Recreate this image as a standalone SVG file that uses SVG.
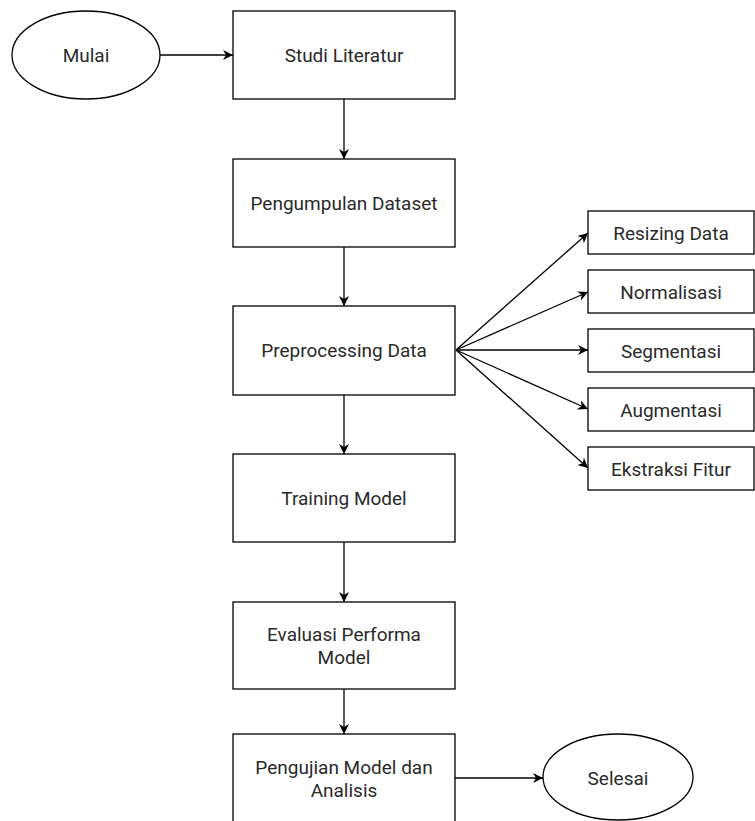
<svg xmlns="http://www.w3.org/2000/svg" width="755" height="821" viewBox="0 0 755 821">
<style>
.n{fill:#fff;stroke:#000;stroke-width:1.3}
.t{font-family:Roboto,"Liberation Sans",sans-serif;font-size:19px;fill:#2a2a2a;text-anchor:middle;dominant-baseline:central}
.c{fill:none;stroke:#000;stroke-width:1.3}
</style>
<defs>
<marker id="a" viewBox="0 0 10 10" refX="10" refY="5" markerWidth="10" markerHeight="10" markerUnits="userSpaceOnUse" orient="auto">
<path d="M0,0 L10,5 L0,10 L3,5 z" fill="#000"/>
</marker>
</defs>
<rect width="755" height="821" fill="#fff"/>
<g id="connectors">
<path class="c" d="M160,55 H233" marker-end="url(#a)"/>
<path class="c" d="M344,99 V159" marker-end="url(#a)"/>
<path class="c" d="M344,247 V306" marker-end="url(#a)"/>
<path class="c" d="M344,395 V454" marker-end="url(#a)"/>
<path class="c" d="M344,542 V602" marker-end="url(#a)"/>
<path class="c" d="M344,689 V734" marker-end="url(#a)"/>
<path class="c" d="M455,778 H543" marker-end="url(#a)"/>
<path class="c" d="M456,350 L588,233" marker-end="url(#a)"/>
<path class="c" d="M456,350 L588,292" marker-end="url(#a)"/>
<path class="c" d="M456,350 L588,350" marker-end="url(#a)"/>
<path class="c" d="M456,350 L588,409" marker-end="url(#a)"/>
<path class="c" d="M456,350 L588,468" marker-end="url(#a)"/>
</g>
<g id="mulai"><ellipse class="n" cx="86" cy="55" rx="74" ry="44"/><text class="t" x="86" y="55">Mulai</text></g>
<g id="studi"><rect class="n" x="233" y="11" width="222" height="88"/><text class="t" x="344" y="55">Studi Literatur</text></g>
<g id="pengumpulan"><rect class="n" x="233" y="159" width="222" height="88"/><text class="t" x="344" y="203">Pengumpulan Dataset</text></g>
<g id="preprocessing"><rect class="n" x="233" y="306" width="222" height="89"/><text class="t" x="344" y="350">Preprocessing Data</text></g>
<g id="training"><rect class="n" x="233" y="454" width="222" height="88"/><text class="t" x="344" y="498">Training Model</text></g>
<g id="evaluasi"><rect class="n" x="233" y="602" width="222" height="87"/><text class="t" x="344" y="634">Evaluasi Performa</text><text class="t" x="344" y="657">Model</text></g>
<g id="pengujian"><rect class="n" x="233" y="734" width="222" height="90"/><text class="t" x="344" y="767">Pengujian Model dan</text><text class="t" x="344" y="790">Analisis</text></g>
<g id="selesai"><ellipse class="n" cx="618" cy="777" rx="75" ry="43"/><text class="t" x="618" y="778">Selesai</text></g>
<g id="resizing"><rect class="n" x="588" y="211" width="166" height="43"/><text class="t" x="671" y="233">Resizing Data</text></g>
<g id="normalisasi"><rect class="n" x="588" y="270" width="166" height="43"/><text class="t" x="671" y="292">Normalisasi</text></g>
<g id="segmentasi"><rect class="n" x="588" y="329" width="166" height="43"/><text class="t" x="671" y="351">Segmentasi</text></g>
<g id="augmentasi"><rect class="n" x="588" y="388" width="166" height="43"/><text class="t" x="671" y="410">Augmentasi</text></g>
<g id="ekstraksi"><rect class="n" x="588" y="447" width="166" height="43"/><text class="t" x="671" y="469">Ekstraksi Fitur</text></g>
</svg>
